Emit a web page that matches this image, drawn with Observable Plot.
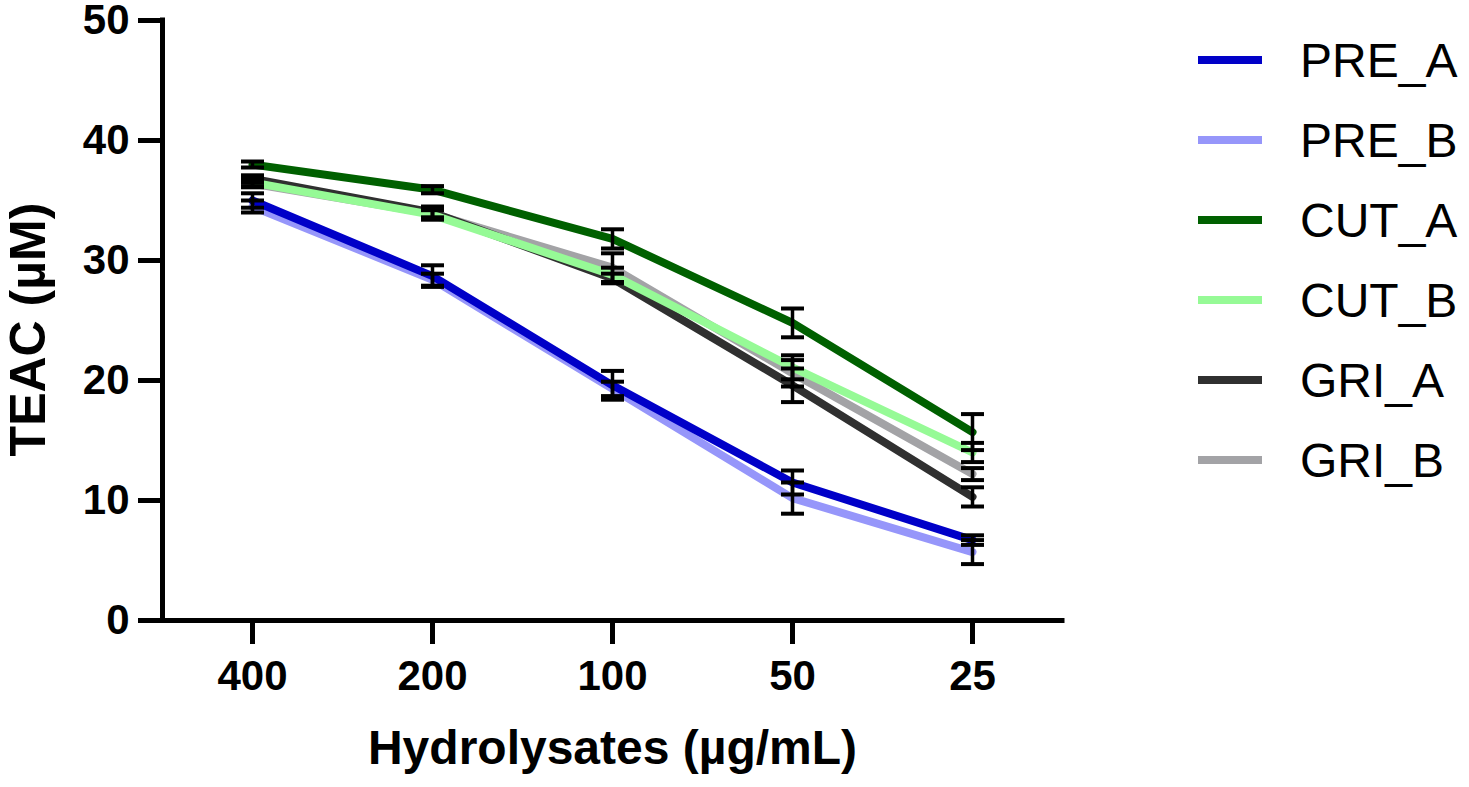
<!DOCTYPE html>
<html>
<head>
<meta charset="utf-8">
<script src="https://cdn.jsdelivr.net/npm/d3@7"></script>
<script src="https://cdn.jsdelivr.net/npm/@observablehq/plot@0.6"></script>
<style>
  html, body { margin: 0; padding: 0; background: #fff; }
  #wrap { position: relative; width: 1469px; height: 787px; overflow: hidden; }
  #chart { position: absolute; left: 0; top: 0; }
  #legend { position: absolute; left: 1198px; top: 20px; font-family: "Liberation Sans", Arial, sans-serif; font-size: 48px; color: #000; }
  .row { display: flex; align-items: center; height: 80px; }
  .sw { width: 64px; height: 8px; margin-right: 38px; }
</style>
</head>
<body>
<div id="wrap"><div id="chart"></div><div id="legend"></div></div>
<script>
// ---- data ----
const doses = ["400", "200", "100", "50", "25"];
const seriesNames = ["PRE_A", "PRE_B", "CUT_A", "CUT_B", "GRI_A", "GRI_B"];
const seriesColors = ["#0000c8", "#9696fa", "#006000", "#96fa96", "#303030", "#a3a3a6"];

const PRE_A = [35.0, 28.7, 19.6, 11.5, 6.7];
const PRE_B = [34.5, 28.4, 19.3, 10.2, 5.7];
const CUT_A = [38.0, 35.9, 31.8, 24.8, 15.7];
const CUT_B = [36.5, 33.8, 28.8, 21.1, 14.0];
const GRI_A = [36.8, 34.0, 28.5, 19.6, 10.3];
const GRI_B = [36.4, 33.9, 29.4, 20.6, 12.2];

const PRE_A_err = [0.6, 0.9, 1.2, 1.0, 0.4];
const PRE_B_err = [0.5, 0.5, 0.6, 1.3, 1.0];
const CUT_A_err = [0.25, 0.3, 0.8, 1.2, 1.5];
const CUT_B_err = [0.3, 0.4, 0.6, 1.0, 0.8];
const GRI_A_err = [0.3, 0.5, 0.4, 1.4, 0.8];
const GRI_B_err = [0.3, 0.3, 1.2, 1.1, 0.5];

const yTicks = [0, 10, 20, 30, 40, 50];

// ---- build table ----
const values = {PRE_A, PRE_B, CUT_A, CUT_B, GRI_A, GRI_B};
const errs = {PRE_A: PRE_A_err, PRE_B: PRE_B_err, CUT_A: CUT_A_err, CUT_B: CUT_B_err, GRI_A: GRI_A_err, GRI_B: GRI_B_err};
const rows = [];
seriesNames.forEach((s, si) => {
  doses.forEach((d, i) => {
    rows.push({series: s, order: si, i, v: values[s][i], lo: values[s][i] - errs[s][i], hi: values[s][i] + errs[s][i]});
  });
});
const drawOrder = ["GRI_B", "GRI_A", "CUT_B", "CUT_A", "PRE_B", "PRE_A"];

const capSymbol = {
  draw(context, size) {
    const r = Math.sqrt(size / Math.PI);
    context.moveTo(-r, 0);
    context.lineTo(r, 0);
  }
};

const marks = [];
for (const s of drawOrder) {
  marks.push(Plot.line(rows.filter(r => r.series === s), {
    x: "i", y: "v", stroke: seriesColors[seriesNames.indexOf(s)], strokeWidth: 8, strokeLinejoin: "miter"
  }));
}
marks.push(Plot.ruleX(rows, {x: "i", y1: "lo", y2: "hi", stroke: "black", strokeWidth: 3.5}));
marks.push(Plot.dot(rows, {x: "i", y: "lo", symbol: capSymbol, r: 11.5, stroke: "black", strokeWidth: 4, fill: "none"}));
marks.push(Plot.dot(rows, {x: "i", y: "hi", symbol: capSymbol, r: 11.5, stroke: "black", strokeWidth: 4, fill: "none"}));

// axes
marks.push(Plot.ruleY([0], {stroke: "black", strokeWidth: 5, strokeLinecap: "square"}));
marks.push(Plot.ruleX([-0.5], {stroke: "black", strokeWidth: 5, strokeLinecap: "square"}));
marks.push(Plot.axisY({ticks: yTicks, tickSize: 24, tickPadding: 9, fontSize: 42, fontWeight: "bold", strokeWidth: 5, label: null, tickFormat: d => String(d)}));
marks.push(Plot.axisX({ticks: d3.range(doses.length), tickSize: 24, tickPadding: 16, fontSize: 42, fontWeight: "bold", strokeWidth: 5, label: null, tickFormat: i => doses[i]}));
marks.push(Plot.text(["Hydrolysates (µg/mL)"], {frameAnchor: "bottom", dy: 128, fontSize: 48, fontWeight: "bold", textAnchor: "middle", lineAnchor: "middle", text: d => d}));
marks.push(Plot.text(["TEAC (µM)"], {frameAnchor: "left", dx: -134, dy: 9, rotate: -90, fontSize: 50, fontWeight: "bold", textAnchor: "middle", lineAnchor: "middle", text: d => d}));

const chart = Plot.plot({
  width: 1469,
  height: 787,
  marginLeft: 162,
  marginRight: 407,
  marginTop: 20,
  marginBottom: 167,
  style: {fontFamily: "'Liberation Sans', Arial, sans-serif", color: "black", background: "white", overflow: "visible"},
  x: {type: "linear", domain: [-0.5, doses.length - 0.5], axis: null},
  y: {domain: [0, 50], axis: null},
  marks
});
document.getElementById("chart").appendChild(chart);

// legend
const legend = document.getElementById("legend");
seriesNames.forEach((s, i) => {
  const row = document.createElement("div");
  row.className = "row";
  const sw = document.createElement("span");
  sw.className = "sw";
  sw.style.background = seriesColors[i];
  const t = document.createElement("span");
  t.textContent = s;
  row.appendChild(sw);
  row.appendChild(t);
  legend.appendChild(row);
});
</script>
</body>
</html>
